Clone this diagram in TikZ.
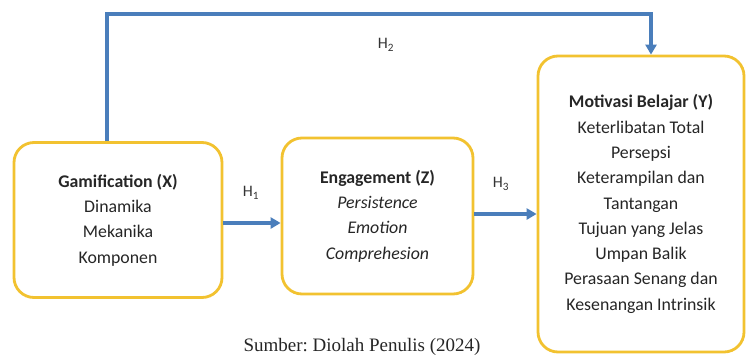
\documentclass[tikz,border=0pt]{standalone}
\usepackage{fontspec}
\setmainfont{Carlito}
\newfontfamily\captionserif{Liberation Serif}
\usetikzlibrary{arrows.meta}
\frenchspacing
\definecolor{boxgold}{HTML}{F2C230}
\definecolor{linkblue}{HTML}{4A7EBB}
\tikzset{
  varbox/.style={draw=boxgold, line width=2.8pt, rounded corners=20pt, fill=white,
    align=center, font=\fontsize{17.8}{25.3}\selectfont, text=black!85, inner sep=0pt},
  link/.style={draw=linkblue, line width=3.6pt,
    -{Triangle[length=10pt,width=11pt]}},
  hlabel/.style={font=\fontsize{16}{18}\selectfont, text=black!80},
}
\begin{document}
\begin{tikzpicture}[x=1pt,y=-1pt]
\useasboundingbox (0,0) rectangle (749,362);

\node[varbox, minimum width=208pt, minimum height=155pt] (X) at (118,220)
  {\textbf{Gamification (X)}\\Dinamika\\Mekanika\\Komponen};
\node[varbox, minimum width=191pt, minimum height=156pt] (Z) at (377.5,216)
  {\textbf{Engagement (Z)}\\\textit{Persistence}\\\textit{Emotion}\\\textit{Comprehesion}};
\node[varbox, minimum width=206pt, minimum height=296pt] (Y) at (641,204)
  {\textbf{Motivasi Belajar (Y)}\\Keterlibatan Total\\Persepsi\\Keterampilan dan\\Tantangan\\Tujuan yang Jelas\\Umpan Balik\\Perasaan Senang dan\\Kesenangan Intrinsik};

\coordinate (turnA) at (107,14);
\coordinate (turnB) at (651,14);

\draw[link] (X.north -| turnA) -- (turnA) -- (turnB) -- (Y.north -| turnB);
\draw[link] (X.east |- 0,223) -- (Z.west |- 0,223);
\draw[link] (Z.east |- 0,214) -- (Y.west |- 0,214);

\node[hlabel] (h1) at (251,193) {H\textsubscript{1}};
\node[hlabel] (h2) at (386,45) {H\textsubscript{2}};
\node[hlabel] (h3) at (501,184) {H\textsubscript{3}};

\node[font=\captionserif\fontsize{19}{22}\selectfont, text=black!85] (src) at (362,347)
  {Sumber: Diolah Penulis (2024)};
\end{tikzpicture}
\end{document}
